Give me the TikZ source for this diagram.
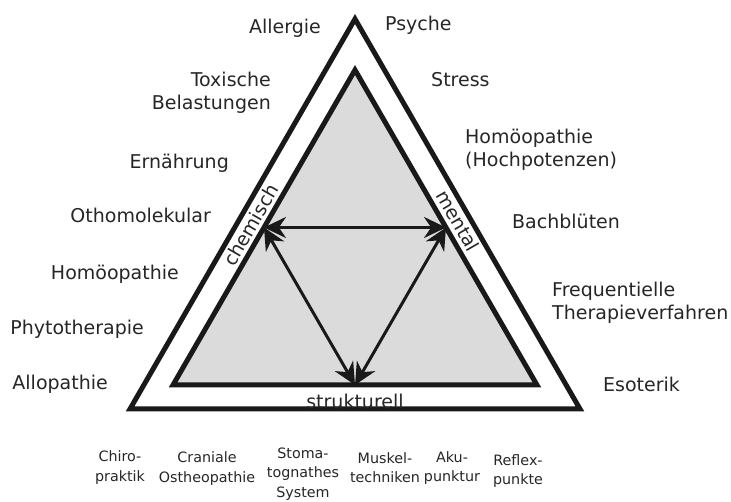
\documentclass[tikz,border=0pt]{standalone}
\usepackage{fontspec}
\setmainfont{DejaVu Sans}
\usepackage{tikz}
\usetikzlibrary{arrows.meta,calc}

\begin{document}
\begin{tikzpicture}[x=1pt,y=-1pt,
  tri/.style={line width=5pt,draw=black!90,line join=miter},
  lbl/.style={font=\fontsize{19}{23}\selectfont,inner sep=0pt,text=black!85},
  sub/.style={font=\fontsize{14.3}{19.5}\selectfont,inner sep=0pt,align=center,anchor=base,text=black!85},
  edge/.style={font=\fontsize{19}{23}\selectfont,inner sep=0pt,text=black!85},
  arr/.style={{Stealth[length=22pt,width=21pt]}-{Stealth[length=22pt,width=21pt]},line width=3pt,draw=black!90}]
\useasboundingbox (0,0) rectangle (731,502);
\coordinate (oT) at (355,19);  \coordinate (oL) at (130,409); \coordinate (oR) at (580,409);
\coordinate (iT) at (355,70);  \coordinate (iL) at (173,385); \coordinate (iR) at (537,385);
\draw[tri] (oL) -- (oT) -- (oR) -- cycle;
\draw[tri,fill=black!14] (iL) -- (iT) -- (iR) -- cycle;
\coordinate (chem) at ($(iL)!0.5!(iT)$);
\coordinate (ment) at ($(iR)!0.5!(iT)$);
\coordinate (stru) at ($(iL)!0.5!(iR)$);
\draw[arr] (chem) -- (ment); \draw[arr] (chem) -- (stru); \draw[arr] (ment) -- (stru);
\node[edge,rotate=60] (chemisch) at (251,225) {chemisch};
\node[edge,rotate=-60] (mental) at (458,221) {mental};
\node[edge] (strukturell) at (355,401) {strukturell};
% left side
\node[lbl,anchor=base east] (allergie) at (321,34) {Allergie};
\node[lbl,anchor=base east,align=right] (toxisch) at (271,110) {Toxische\\Belastungen};
\node[lbl,anchor=base east] (ernaehrung) at (229,169) {Ernährung};
\node[lbl,anchor=base east] (ortho) at (211,223) {Othomolekular};
\node[lbl,anchor=base east] (homoeo) at (179,280) {Homöopathie};
\node[lbl,anchor=base east] (phyto) at (144,335) {Phytotherapie};
\node[lbl,anchor=base east] (allo) at (108,390) {Allopathie};
% right side
\node[lbl,anchor=base west] (psyche) at (385,31) {Psyche};
\node[lbl,anchor=base west] (stress) at (431,87) {Stress};
\node[lbl,anchor=base west,align=left] (hochpot) at (465,167) {Homöopathie\\(Hochpotenzen)};
\node[lbl,anchor=base west] (bach) at (512,229) {Bachblüten};
\node[lbl,anchor=base west,align=left] (freq) at (552,320) {Frequentielle\\Therapieverfahren};
\node[lbl,anchor=base west] (esoterik) at (603,392) {Esoterik};
% bottom
\node[sub] (chiro) at (120,481) {Chiro-\\praktik};
\node[sub] (cranial) at (207,482) {Craniale\\Ostheopathie};
\node[sub] (stoma) at (303,497) {Stoma-\\tognathes\\System};
\node[sub] (muskel) at (385,482.5) {Muskel-\\techniken};
\node[sub] (aku) at (452,481.5) {Aku-\\punktur};
\node[sub] (reflex) at (518,484.5) {Reflex-\\punkte};
\end{tikzpicture}
\end{document}
